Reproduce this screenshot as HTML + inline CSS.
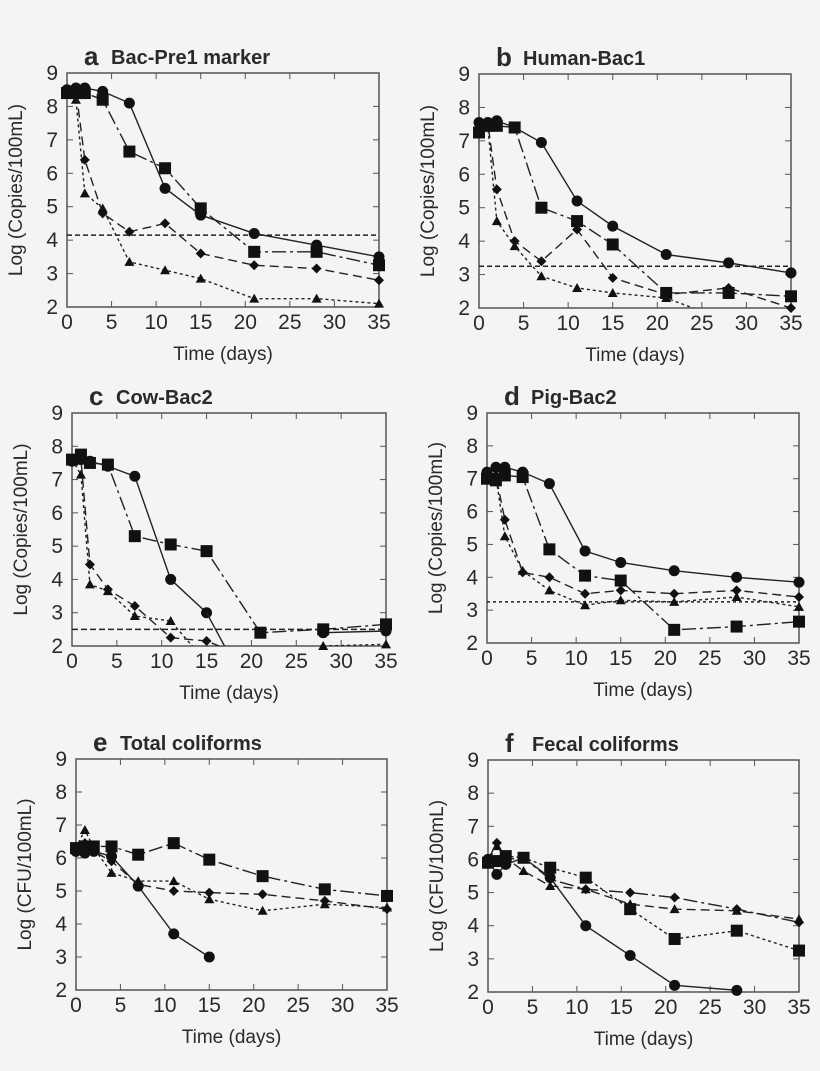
<!DOCTYPE html><html><head><meta charset="utf-8"><style>body{margin:0;background:#f4f4f4}svg{display:block}text{font-family:"Liberation Sans",sans-serif;fill:#2a2a2a}</style></head><body>
<svg id="s" width="820" height="1071" xmlns="http://www.w3.org/2000/svg"></svg>
<script>
const S=document.getElementById('s');let h='';
const T=[0,1,2,4,7,11,15,21,28,35],TF=[0,1,2,4,7,11,16,21,28,35];
const DA={c:'none',s:'14,4,3,4',d:'9,5',t:'3,3'};
const P=[
{L:67,R:379,Y9:73,Y2:307,l:'a',t:'Bac-Pre1 marker',yl:'Log (Copies/100mL)',h:4.15,hd:'5,3',
 s:{c:[8.5,8.55,8.55,8.45,8.1,5.55,4.75,4.2,3.85,3.5],s:[8.4,8.4,8.4,8.2,6.65,6.15,4.95,3.65,3.65,3.25],d:[8.5,8.5,6.4,4.8,4.25,4.5,3.6,3.25,3.15,2.8],t:[8.4,8.2,5.4,4.95,3.35,3.1,2.85,2.25,2.25,2.1]}},
{L:479,R:791,Y9:74,Y2:308,l:'b',t:'Human-Bac1',yl:'Log (Copies/100mL)',h:3.25,hd:'5,3',
 s:{c:[7.55,7.55,7.6,7.4,6.95,5.2,4.45,3.6,3.35,3.05],s:[7.25,7.45,7.45,7.4,5.0,4.6,3.9,2.45,2.45,2.35],d:[7.55,7.5,5.55,4.0,3.4,4.35,2.9,2.4,2.6,2.0],t:[7.5,7.4,4.6,3.85,2.95,2.6,2.45,2.3,1.6,1.5]}},
{L:72,R:386,Y9:413,Y2:646,l:'c',t:'Cow-Bac2',yl:'Log (Copies/100mL)',h:2.5,hd:'6,3',
 s:{c:[7.55,7.6,7.55,7.4,7.1,4.0,3.0,null,2.4,2.45],s:[7.6,7.75,7.5,7.45,5.3,5.05,4.85,2.4,2.5,2.65],d:[7.6,7.6,4.45,3.7,3.2,2.25,2.15,1.5,null,null],t:[7.6,7.15,3.85,3.65,2.9,2.75,1.5,null,2.0,2.05]},
 x:[[15,3.0,17,2.0]]},
{L:487,R:799,Y9:413,Y2:643,l:'d',t:'Pig-Bac2',yl:'Log (Copies/100mL)',h:3.25,hd:'3,3',
 s:{c:[7.2,7.35,7.35,7.2,6.85,4.8,4.45,4.2,4.0,3.85],s:[7.0,6.95,7.1,7.05,4.85,4.05,3.9,2.4,2.5,2.65],d:[7.15,7.1,5.75,4.15,4.0,3.5,3.6,3.5,3.6,3.4],t:[7.1,7.05,5.25,4.2,3.6,3.15,3.3,3.25,3.4,3.1]}},
{L:76,R:387,Y9:759,Y2:990,l:'e',t:'Total coliforms',yl:'Log (CFU/100mL)',
 s:{c:[6.2,6.15,6.2,6.05,5.15,3.7,3.0,null,null,null],s:[6.3,6.35,6.35,6.35,6.1,6.45,5.95,5.45,5.05,4.85],d:[6.2,6.45,6.2,5.9,5.2,5.0,4.95,4.9,4.7,4.45],t:[6.3,6.85,6.3,5.55,5.3,5.3,4.75,4.4,4.6,4.5]}},
{L:488,R:799,Y9:760,Y2:992,l:'f',t:'Fecal coliforms',yl:'Log (CFU/100mL)',tf:1,
 da:{s:'3,3',d:'14,4,3,4',t:'9,5'},
 s:{c:[6.0,5.55,5.85,6.05,5.45,4.0,3.1,2.2,2.05,null],s:[5.9,5.95,6.1,6.05,5.75,5.45,4.5,3.6,3.85,3.25],d:[6.0,6.5,6.0,6.05,5.4,5.1,5.0,4.85,4.5,4.1],t:[5.95,6.4,6.05,5.65,5.2,5.1,4.65,4.5,4.45,4.2]}}
];
P.forEach((p,i)=>{
 const X=t=>p.L+(p.R-p.L)*t/35,Y=v=>p.Y2-(p.Y2-p.Y9)*(v-2)/7;
 const id='c'+i;
 h+=`<clipPath id="${id}"><rect x="${p.L}" y="${p.Y9}" width="${p.R-p.L}" height="${p.Y2-p.Y9}"/></clipPath>`;
 h+=`<rect x="${p.L}" y="${p.Y9}" width="${p.R-p.L}" height="${p.Y2-p.Y9}" fill="none" stroke="#555" stroke-width="1.5"/>`;
 for(let v=2;v<=9;v++){const y=Y(v);h+=`<line x1="${p.L}" x2="${p.L+6}" y1="${y}" y2="${y}" stroke="#555"/><line x1="${p.R}" x2="${p.R-6}" y1="${y}" y2="${y}" stroke="#555"/><text x="${p.L-9}" y="${y+7}" font-size="21" text-anchor="end">${v}</text>`;}
 for(let t=0;t<=35;t+=5){const x=X(t);h+=`<line x1="${x}" x2="${x}" y1="${p.Y2}" y2="${p.Y2-6}" stroke="#555"/><line x1="${x}" x2="${x}" y1="${p.Y9}" y2="${p.Y9+6}" stroke="#555"/><text x="${x}" y="${p.Y2+22}" font-size="21" text-anchor="middle">${t}</text>`;}
 const cx=(p.L+p.R)/2;
 h+=`<text x="${cx}" y="${p.Y2+53}" font-size="19" text-anchor="middle">Time (days)</text>`;
 const cy=(p.Y9+p.Y2)/2;
 h+=`<text transform="translate(${p.L-45},${cy}) rotate(-90)" font-size="19" text-anchor="middle">${p.yl}</text>`;
 h+=`<text x="${p.L+17}" y="${p.Y9-8}" font-size="26" font-weight="bold">${p.l}</text><text x="${p.L+44}" y="${p.Y9-9}" font-size="20" font-weight="bold">${p.t}</text>`;
 if(p.h)h+=`<line x1="${p.L}" x2="${p.R}" y1="${Y(p.h)}" y2="${Y(p.h)}" stroke="#222" stroke-width="1.5" stroke-dasharray="${p.hd}"/>`;
 const tt=p.tf?TF:T;
 ['t','d','s','c'].forEach(k=>{
  const vals=p.s[k];let segs=[],cur=[];
  vals.forEach((v,j)=>{if(v==null){if(cur.length)segs.push(cur);cur=[];}else cur.push([X(tt[j]),Y(v)]);});
  if(cur.length)segs.push(cur);
  const da=(p.da&&p.da[k])||DA[k];
  h+=`<g clip-path="url(#${id})">`;
  segs.forEach(sg=>{h+=`<polyline points="${sg.map(q=>q.join(',')).join(' ')}" fill="none" stroke="#222" stroke-width="1.4" ${da!='none'?`stroke-dasharray="${da}"`:''}/>`;});
  h+=`</g>`;
  vals.forEach((v,j)=>{if(v==null||v<1.99)return;const x=X(tt[j]),y=Y(v);
   if(k=='c')h+=`<circle cx="${x}" cy="${y}" r="5.5" fill="#111"/>`;
   else if(k=='s')h+=`<rect x="${x-6}" y="${y-6}" width="12" height="12" fill="#111"/>`;
   else if(k=='d')h+=`<polygon points="${x},${y-5} ${x+5},${y} ${x},${y+5} ${x-5},${y}" fill="#111"/>`;
   else h+=`<polygon points="${x},${y-5} ${x+5},${y+4} ${x-5},${y+4}" fill="#111"/>`;});
 });
 h+=`<g clip-path="url(#${id})">`;
 (p.x||[]).forEach(a=>{h+=`<line x1="${X(a[0])}" y1="${Y(a[1])}" x2="${X(a[2])}" y2="${Y(a[3])}" stroke="#222" stroke-width="1.4"/>`;});
 h+=`</g>`;
});
S.innerHTML=h;
</script></body></html>
